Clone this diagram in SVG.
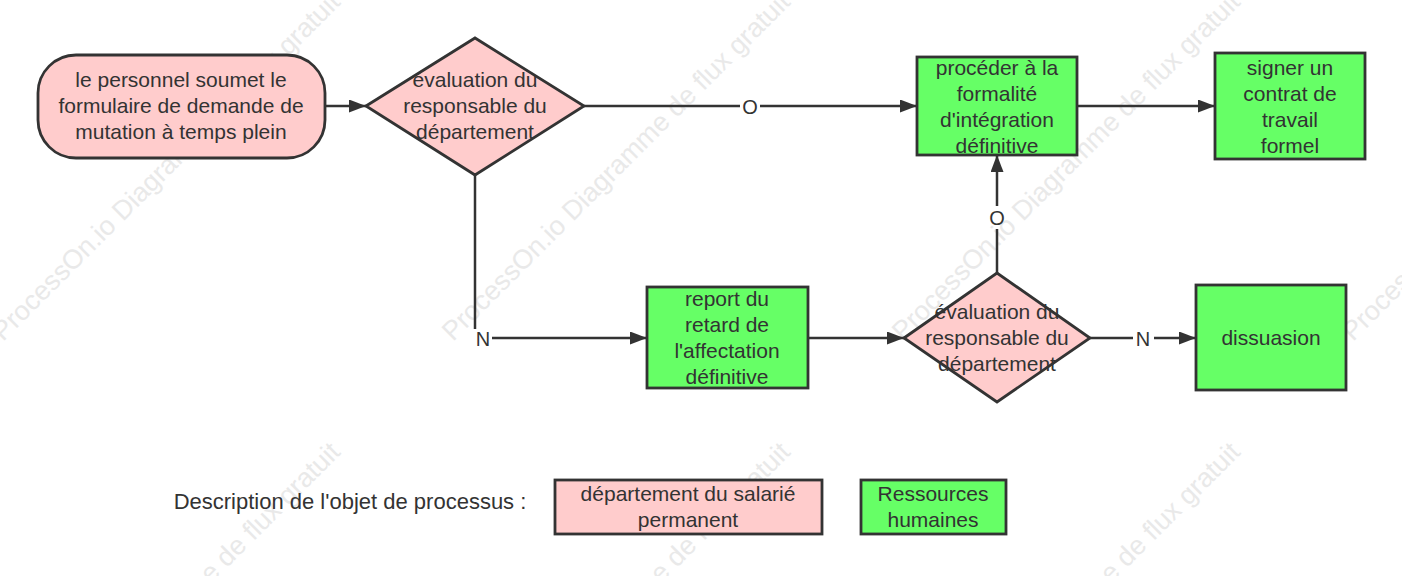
<svg xmlns="http://www.w3.org/2000/svg" width="1402" height="576" viewBox="0 0 1402 576">
<defs>
<marker id="arr" markerWidth="17" markerHeight="13" refX="17" refY="6.5" orient="auto" markerUnits="userSpaceOnUse">
<path d="M0,0 L17,6.5 L0,13 Z" fill="#333"/>
</marker>
<style>
.pink{fill:#FFCCCC;stroke:#333;stroke-width:2.8}
.green{fill:#66FF66;stroke:#333;stroke-width:2.8}
.t{font-family:"Liberation Sans",Arial,sans-serif;font-size:21px;fill:#333;text-anchor:middle}
.lbl{font-family:"Liberation Sans",Arial,sans-serif;font-size:20px;fill:#333;text-anchor:middle}
.c{fill:none;stroke:#333;stroke-width:2.5}
.wm{font-family:"Liberation Sans",Arial,sans-serif;font-size:27px;fill:#e9e9e9}
</style>
</defs>
<rect width="1402" height="576" fill="#fff"/>
<g id="watermarks">
<text class="wm" transform="translate(3,342) rotate(-45)">ProcessOn.io Diagramme de flux gratuit</text>
<text class="wm" transform="translate(453,342) rotate(-45)">ProcessOn.io Diagramme de flux gratuit</text>
<text class="wm" transform="translate(903,342) rotate(-45)">ProcessOn.io Diagramme de flux gratuit</text>
<text class="wm" transform="translate(1353,342) rotate(-45)">ProcessOn.io Diagramme de flux gratuit</text>
<text class="wm" transform="translate(3,792) rotate(-45)">ProcessOn.io Diagramme de flux gratuit</text>
<text class="wm" transform="translate(453,792) rotate(-45)">ProcessOn.io Diagramme de flux gratuit</text>
<text class="wm" transform="translate(903,792) rotate(-45)">ProcessOn.io Diagramme de flux gratuit</text>
</g>
<g id="connectors">
<line class="c" x1="325" y1="106" x2="366" y2="106" marker-end="url(#arr)"/>
<line class="c" x1="584" y1="106" x2="740" y2="106"/>
<line class="c" x1="760" y1="106" x2="917" y2="106" marker-end="url(#arr)"/>
<text class="lbl" x="750" y="114">O</text>
<line class="c" x1="1077" y1="106" x2="1215" y2="106" marker-end="url(#arr)"/>
<polyline class="c" points="475,175 475,329"/>
<line class="c" x1="492" y1="338" x2="647" y2="338" marker-end="url(#arr)"/>
<text class="lbl" x="483" y="346">N</text>
<line class="c" x1="808" y1="338" x2="904" y2="338" marker-end="url(#arr)"/>
<line class="c" x1="997" y1="273" x2="997" y2="229"/>
<line class="c" x1="997" y1="206" x2="997" y2="155" marker-end="url(#arr)"/>
<text class="lbl" x="997" y="225">O</text>
<line class="c" x1="1090" y1="338" x2="1133" y2="338"/>
<line class="c" x1="1154" y1="338" x2="1196" y2="338" marker-end="url(#arr)"/>
<text class="lbl" x="1143" y="346">N</text>
</g>
<g id="start">
<rect class="pink" x="38" y="55" width="287" height="103" rx="38" ry="38"/>
<text class="t" x="181" y="87">le personnel soumet le</text>
<text class="t" x="181" y="113">formulaire de demande de</text>
<text class="t" x="181" y="139">mutation à temps plein</text>
</g>
<g id="decision1">
<polygon class="pink" points="366,106 475,38 584,106 475,175"/>
<text class="t" x="475" y="87">évaluation du</text>
<text class="t" x="475" y="113">responsable du</text>
<text class="t" x="475" y="139">département</text>
</g>
<g id="integration">
<rect class="green" x="917" y="57" width="160" height="98"/>
<text class="t" x="997" y="75">procéder à la</text>
<text class="t" x="997" y="101">formalité</text>
<text class="t" x="997" y="127">d'intégration</text>
<text class="t" x="997" y="153">définitive</text>
</g>
<g id="contrat">
<rect class="green" x="1215" y="53" width="150" height="106"/>
<text class="t" x="1290" y="75">signer un</text>
<text class="t" x="1290" y="101">contrat de</text>
<text class="t" x="1290" y="127">travail</text>
<text class="t" x="1290" y="153">formel</text>
</g>
<g id="report">
<rect class="green" x="647" y="287" width="161" height="101"/>
<text class="t" x="727" y="306">report du</text>
<text class="t" x="727" y="332">retard de</text>
<text class="t" x="727" y="358">l'affectation</text>
<text class="t" x="727" y="384">définitive</text>
</g>
<g id="decision2">
<polygon class="pink" points="904,338 997,273 1090,338 997,402"/>
<text class="t" x="997" y="319">évaluation du</text>
<text class="t" x="997" y="345">responsable du</text>
<text class="t" x="997" y="371">département</text>
</g>
<g id="dissuasion">
<rect class="green" x="1196" y="285" width="150" height="105"/>
<text class="t" x="1271" y="345">dissuasion</text>
</g>
<g id="legend">
<text class="t" x="350" y="509" style="font-size:22px">Description de l'objet de processus :</text>
<rect class="pink" x="555" y="480" width="267" height="54"/>
<text class="t" x="688" y="501">département du salarié</text>
<text class="t" x="688" y="527">permanent</text>
<rect class="green" x="861" y="480" width="145" height="54"/>
<text class="t" x="933" y="501">Ressources</text>
<text class="t" x="933" y="527">humaines</text>
</g>
</svg>
